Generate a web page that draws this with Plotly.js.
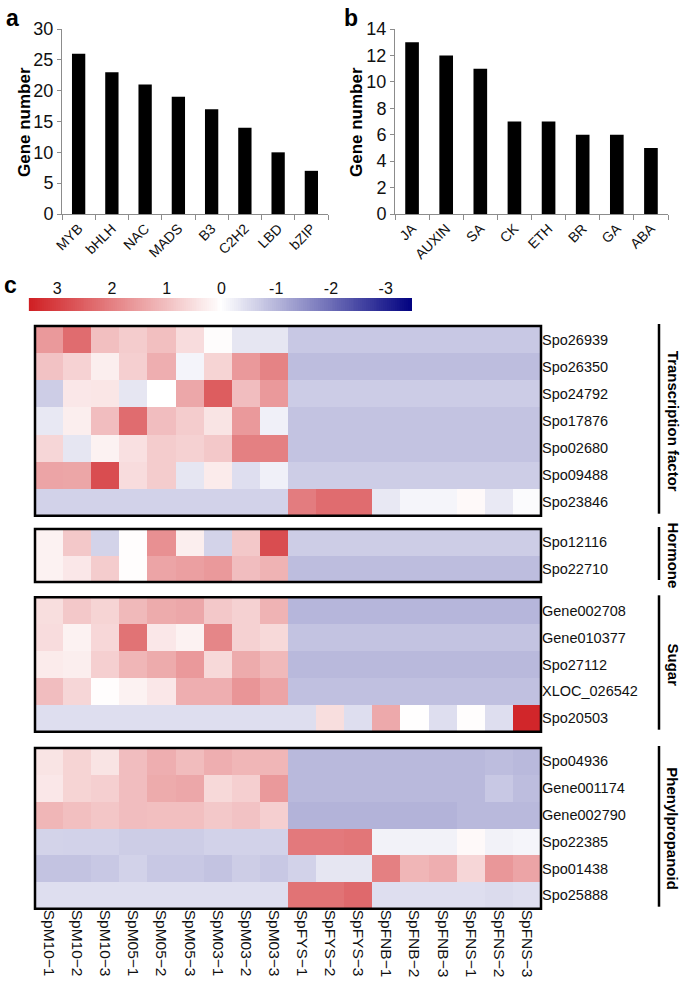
<!DOCTYPE html>
<html>
<head>
<meta charset="utf-8">
<script src="https://cdn.plot.ly/plotly-3.0.1.min.js"></script>
<style>html,body{margin:0;padding:0;background:#fff;}#chart{width:685px;height:989px;}</style>
</head>
<body>
<div id="chart"></div>
<script>
// ---------- Data ----------
const catA = ['MYB','bHLH','NAC','MADS','B3','C2H2','LBD','bZIP'];
const valA = [26,23,21,19,17,14,10,7];
const catB = ['JA','AUXIN','SA','CK','ETH','BR','GA','ABA'];
const valB = [13,12,11,7,7,6,6,5];

const samples = ['SpM10−1','SpM10−2','SpM10−3','SpM05−1','SpM05−2','SpM05−3','SpM03−1','SpM03−2','SpM03−3',
                 'SpFYS−1','SpFYS−2','SpFYS−3','SpFNB−1','SpFNB−2','SpFNB−3','SpFNS−1','SpFNS−2','SpFNS−3'];
const colorTicks = [3,2,1,0,-1,-2,-3];

const tfGenes = ['Spo26939','Spo26350','Spo24792','Spo17876','Spo02680','Spo09488','Spo23846'];
const tfZ = [
  [1.6,2.3,1.0,0.8,1.0,0.55,0.05,-0.35,-0.35,-0.75,-0.75,-0.75,-0.75,-0.75,-0.75,-0.75,-0.75,-0.75],
  [0.95,0.7,0.27,0.75,1.27,-0.15,0.68,1.6,1.95,-0.9,-0.9,-0.9,-0.9,-0.9,-0.9,-0.9,-0.9,-0.9],
  [-0.68,0.37,0.4,-0.35,0.0,1.38,2.55,1.03,1.6,-0.7,-0.7,-0.7,-0.7,-0.7,-0.7,-0.7,-0.7,-0.7],
  [-0.32,0.27,1.03,2.3,1.03,0.8,0.43,1.6,-0.2,-0.82,-0.82,-0.82,-0.82,-0.82,-0.82,-0.82,-0.82,-0.82],
  [0.64,-0.35,0.2,0.48,0.8,0.72,0.87,2.0,2.0,-0.82,-0.82,-0.82,-0.82,-0.82,-0.82,-0.82,-0.82,-0.82],
  [1.43,1.4,2.8,0.55,0.8,-0.35,0.32,-0.45,-0.2,-0.68,-0.68,-0.68,-0.68,-0.68,-0.68,-0.68,-0.68,-0.68],
  [-0.62,-0.62,-0.62,-0.62,-0.62,-0.62,-0.62,-0.62,-0.62,2.05,2.3,2.3,-0.32,-0.14,-0.14,0.1,-0.3,-0.05]
];

const hormGenes = ['Spo12116','Spo22710'];
const hormZ = [
  [0.2,0.87,-0.6,0.03,1.75,0.27,-0.6,0.87,2.8,-0.68,-0.68,-0.68,-0.68,-0.68,-0.68,-0.68,-0.68,-0.68],
  [0.2,0.37,0.8,0.03,1.43,1.5,1.6,1.03,1.2,-0.9,-0.9,-0.9,-0.9,-0.9,-0.9,-0.9,-0.9,-0.9]
];

const sugarGenes = ['Gene002708','Gene010377','Spo27112','XLOC_026542','Spo20503'];
const sugarZ = [
  [0.52,0.87,0.68,1.1,1.32,1.38,0.87,0.72,1.2,-1.0,-1.0,-1.0,-1.0,-1.0,-1.0,-1.0,-1.0,-1.0],
  [0.55,0.2,0.62,2.2,0.37,0.2,1.9,0.72,0.6,-0.82,-0.82,-0.82,-0.82,-0.82,-0.82,-0.82,-0.82,-0.82],
  [0.32,0.27,0.75,1.15,1.32,1.6,0.6,1.32,1.1,-0.96,-0.96,-0.96,-0.96,-0.96,-0.96,-0.96,-0.96,-0.96],
  [1.03,0.64,0.03,0.2,0.37,1.27,1.27,1.67,1.43,-0.86,-0.86,-0.86,-0.86,-0.86,-0.86,-0.86,-0.86,-0.86],
  [-0.45,-0.45,-0.45,-0.45,-0.45,-0.45,-0.45,-0.45,-0.45,-0.45,0.52,-0.45,1.35,0.02,-0.45,0.03,-0.45,3.4]
];

const phenGenes = ['Spo04936','Gene001174','Gene002790','Spo22385','Spo01438','Spo25888'];
const phenZ = [
  [0.43,0.68,0.43,1.03,1.27,1.05,1.27,1.15,1.15,-0.96,-0.96,-0.96,-0.96,-0.96,-0.96,-0.96,-0.9,-0.96],
  [0.37,0.68,0.75,1.03,1.32,1.38,0.6,0.75,1.6,-0.96,-0.96,-0.96,-0.96,-0.96,-0.96,-0.96,-0.75,-0.9],
  [1.15,1.0,0.9,1.03,1.0,1.0,0.87,0.95,0.75,-1.05,-1.05,-1.05,-1.05,-1.05,-1.05,-0.96,-0.96,-0.96],
  [-0.6,-0.62,-0.62,-0.68,-0.68,-0.68,-0.62,-0.62,-0.62,2.1,2.1,2.15,-0.18,-0.18,-0.18,0.1,-0.18,-0.14],
  [-0.82,-0.82,-0.75,-0.62,-0.75,-0.75,-0.82,-0.68,-0.75,-0.62,-0.35,-0.35,2.0,1.15,1.27,0.64,1.63,1.43],
  [-0.45,-0.45,-0.45,-0.45,-0.45,-0.45,-0.45,-0.45,-0.45,2.2,2.2,2.35,-0.45,-0.45,-0.45,-0.45,-0.5,-0.45]
];

// ---------- Helpers ----------
const W = 685, H = 989;
const px = v => v / W;
const py = v => 1 - v / H;
const FONT = 'Arial, "Liberation Sans", sans-serif';
const cscale = [[0,'#000080'],[0.5,'#ffffff'],[1,'#d02024']];
const ZMIN = -3.5, ZMAX = 3.5;

// gradient for the color key (legend only)
const cbX = [];
for (let i = 0; i <= 200; i++) cbX.push(ZMIN + (ZMAX - ZMIN) * i / 200);

const traces = [
  {type:'bar', x:catA, y:valA, xaxis:'x', yaxis:'y', marker:{color:'#000'}, width:0.4, hoverinfo:'skip'},
  {type:'bar', x:catB, y:valB, xaxis:'x2', yaxis:'y2', marker:{color:'#000'}, width:0.4, hoverinfo:'skip'},
  {type:'heatmap', x:cbX, y:[0], z:[cbX], xaxis:'x3', yaxis:'y3', colorscale:cscale, zmin:ZMIN, zmax:ZMAX, showscale:false},
  {type:'heatmap', x:samples, y:tfGenes, z:tfZ, xaxis:'x4', yaxis:'y4', colorscale:cscale, zmin:ZMIN, zmax:ZMAX, showscale:false},
  {type:'heatmap', x:samples, y:hormGenes, z:hormZ, xaxis:'x4', yaxis:'y5', colorscale:cscale, zmin:ZMIN, zmax:ZMAX, showscale:false},
  {type:'heatmap', x:samples, y:sugarGenes, z:sugarZ, xaxis:'x4', yaxis:'y6', colorscale:cscale, zmin:ZMIN, zmax:ZMAX, showscale:false},
  {type:'heatmap', x:samples, y:phenGenes, z:phenZ, xaxis:'x4', yaxis:'y7', colorscale:cscale, zmin:ZMIN, zmax:ZMAX, showscale:false}
];

const barX = (dom) => ({domain:dom, type:'category', showline:true, linecolor:'#8c8c8c', linewidth:1,
  ticks:'outside', tickson:'boundaries', ticklen:5, tickcolor:'#8c8c8c', tickangle:-45,
  tickfont:{family:FONT, size:14, color:'#111'}, showgrid:false, zeroline:false, fixedrange:true});
const barY = (dom, anchor, rng, dt) => ({domain:dom, anchor:anchor, range:rng, dtick:dt, showline:true, linecolor:'#8c8c8c',
  linewidth:1, ticks:'outside', ticklen:4, tickcolor:'#8c8c8c', tickfont:{family:FONT, size:18, color:'#111'},
  showgrid:false, zeroline:false, fixedrange:true});
const hmY = (dom) => ({domain:dom, anchor:'x4', type:'category', autorange:'reversed', side:'right',
  ticks:'', showline:false, showgrid:false, zeroline:false, tickfont:{family:FONT, size:14.5, color:'#111'}});

const groups = [
  {ax:'y4', top:326, bot:515.7, label:'Transcription factor'},
  {ax:'y5', top:529, bot:582, label:'Hormone'},
  {ax:'y6', top:597.3, bot:731.7, label:'Sugar'},
  {ax:'y7', top:748, bot:908.7, label:'Phenylpropanoid'}
];

const shapes = [];
const ann = (text, x, y, size, angle, xa, ya) => ({text:text, x:px(x), y:py(y), xref:'paper', yref:'paper',
  xanchor:xa || 'center', yanchor:ya || 'middle', textangle:angle || 0, showarrow:false,
  font:{family:FONT, size:size, color:'#000'}});
const annotations = [
  ann('<b>a</b>', 4, 3, 23, 0, 'left', 'top'),
  ann('<b>b</b>', 342, 3, 23, 0, 'left', 'top'),
  ann('<b>c</b>', 2, 270, 23, 0, 'left', 'top'),
  ann('<b>Gene number</b>', 25, 122, 17, -90),
  ann('<b>Gene number</b>', 357, 122, 17, -90)
];

groups.forEach(g => {
  shapes.push({type:'rect', xref:'x4 domain', yref:g.ax + ' domain', x0:0, x1:1, y0:0, y1:1,
    line:{color:'#000', width:2.5}, fillcolor:'rgba(0,0,0,0)'});
  shapes.push({type:'line', xref:'paper', yref:'paper', x0:px(659), x1:px(659), y0:py(g.top - 2), y1:py(g.bot - 2),
    line:{color:'#000', width:2.5}});
  annotations.push(ann('<b>' + g.label + '</b>', 673, (g.top + g.bot) / 2, 15, 90));
});

const layout = {
  width:W, height:H, margin:{l:0, r:0, t:0, b:0}, paper_bgcolor:'#fff', plot_bgcolor:'#fff',
  showlegend:false, font:{family:FONT, color:'#111'},
  xaxis: Object.assign(barX([px(62), px(328)]), {anchor:'y'}),
  yaxis: barY([py(214), py(29)], 'x', [0,30], 5),
  xaxis2: Object.assign(barX([px(395), px(668)]), {anchor:'y2'}),
  yaxis2: barY([py(214), py(29)], 'x2', [0,14], 2),
  xaxis3: {domain:[px(26), px(412)], anchor:'y3', range:[3.57,-3.48], side:'top', tickvals:colorTicks,
    ticktext:colorTicks.map(String), ticks:'', showgrid:false, zeroline:false, showline:false,
    tickfont:{family:FONT, size:16, color:'#111'}},
  yaxis3: {domain:[py(311), py(298)], anchor:'x3', range:[-0.5,0.5], visible:false},
  xaxis4: {domain:[px(35), px(541)], anchor:'y7', type:'category', tickangle:90, ticks:'', showgrid:false,
    zeroline:false, showline:false, tickfont:{family:FONT, size:15.5, color:'#111'}},
  yaxis4: hmY([py(515.7), py(326)]),
  yaxis5: hmY([py(582), py(529)]),
  yaxis6: hmY([py(731.7), py(597.3)]),
  yaxis7: hmY([py(908.7), py(748)]),
  shapes: shapes,
  annotations: annotations
};

Plotly.newPlot('chart', traces, layout, {staticPlot:true, displayModeBar:false});
</script>
</body>
</html>
